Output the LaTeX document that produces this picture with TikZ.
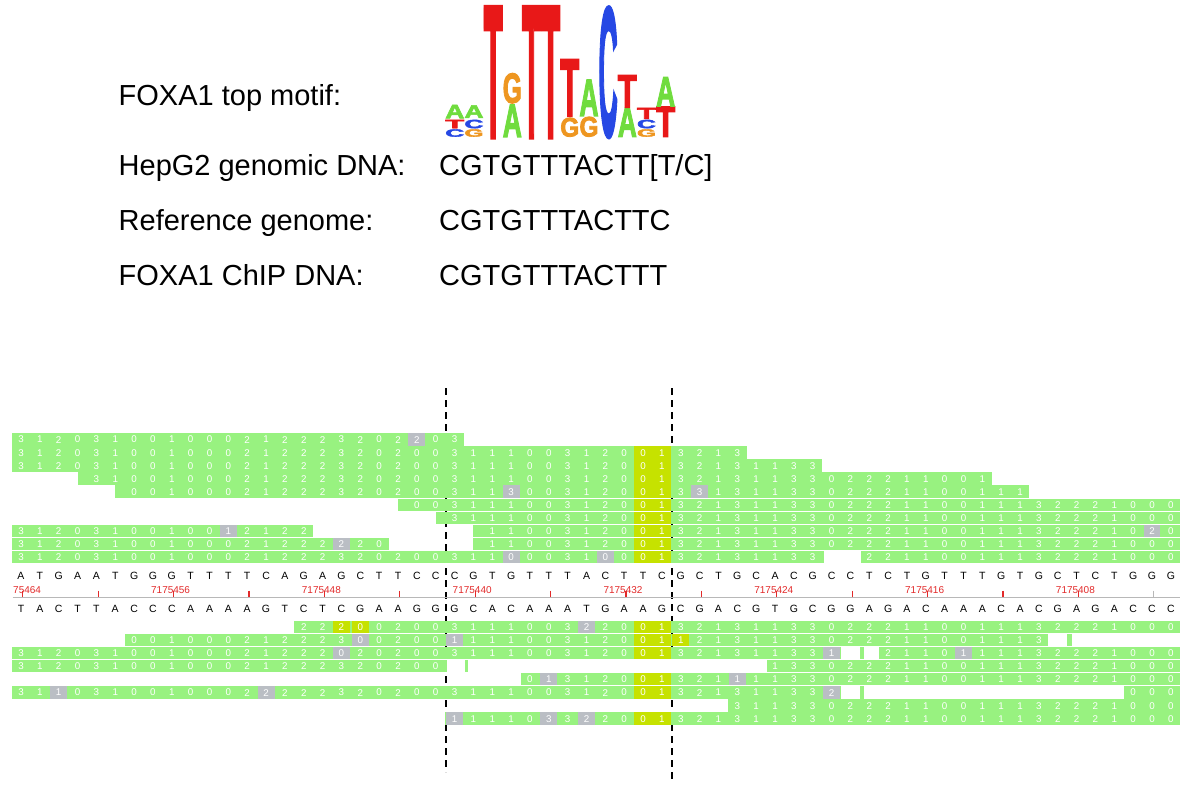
\documentclass[tikz,border=0pt]{standalone}
\usepackage{graphicx}
\usepackage{fontspec}
\setmainfont{Liberation Sans}
\newfontfamily\logofont[FakeBold=3]{Liberation Sans Bold}
\usepackage{tikz}
\usetikzlibrary{positioning, calc}
\definecolor{ReadGreen}{RGB}{152,242,128}
\definecolor{SnpYellow}{RGB}{198,226,0}
\definecolor{MisGrey}{RGB}{186,190,196}
\definecolor{LogoA}{RGB}{112,220,62}
\definecolor{LogoC}{RGB}{38,72,228}
\definecolor{LogoG}{RGB}{238,150,32}
\definecolor{LogoT}{RGB}{232,24,24}
\definecolor{PosRed}{RGB}{226,42,42}
\definecolor{RulerGrey}{RGB}{184,184,184}

\tikzset{
  caption/.style={anchor=base west, inner sep=0pt, font=\fontsize{29}{29}\selectfont},
  nuc/.style={anchor=base, inner sep=0pt, font=\fontsize{10.5}{10.5}\selectfont},
  qual/.style={inner sep=0pt, text=white, font=\fontsize{9.8}{9.8}\selectfont},
  coord/.style={inner sep=0pt, text=PosRed, font=\fontsize{10}{10}\selectfont},
  logo/.style={anchor=south west, inner sep=0pt},
  snpline/.style={line width=2.3pt, dash pattern=on 7pt off 5pt},
}

% per-column values printed in the reads
\def\quallist{{3,1,2,0,3,1,0,0,1,0,0,0,2,1,2,2,2,3,2,0,2,0,0,3,1,1,1,0,0,3,1,2,0,0,1,3,2,1,3,1,1,3,3,0,2,2,2,1,1,0,0,1,1,1,3,2,2,2,1,0,0,0}}
\newcommand\colx[1]{21+18.85*(#1)}

% green read: top, first edge, last edge (in columns)
\newcommand\readbar[3]{%
  \fill[ReadGreen] ({\colx{#2}},#1) rectangle ({\colx{#3}},{#1+12.5});
  \foreach \qc in {0,...,61}{%
    \pgfmathtruncatemacro\inside{(\qc-0.5>#2-0.02)&&(\qc+0.5<#3+0.02)}%
    \ifnum\inside=1
      \pgfmathtruncatemacro\qv{\quallist[\qc]}%
      \node[qual] at ({\colx{\qc}},{#1+6.6}) {\qv};
    \fi}%
}
% single coloured cell: top, column, colour, digit
\newcommand\cellmark[4]{%
  \fill[#3] ({\colx{#2-0.45}},#1) rectangle ({\colx{#2+0.45}},{#1+12.5});
  \node[qual] at ({\colx{#2}},{#1+6.6}) {#4};
}
% the two highlighted columns
\newcommand\snpcells[1]{%
  \fill[SnpYellow] ({\colx{32.5}},#1) rectangle ({\colx{34.5}},{#1+12.5});
  \node[qual] at ({\colx{33}},{#1+6.6}) {0};
  \node[qual] at ({\colx{34}},{#1+6.6}) {1};
}
\newcommand\gapbox[3]{%
  \fill[white] ({\colx{#2}},#1) rectangle ({\colx{#3}},{#1+12.5});
}

\begin{document}
\begin{tikzpicture}[x=1pt,y=-1pt]
\useasboundingbox (0,0) rectangle (1200,787);

% labels and sequences
\node[caption] (motif) at (118.5,105) {FOXA1 top motif:};
\node[caption] (hepg2) at (118.5,175) {HepG2 genomic DNA:};
\node[caption] (refg) at (118.5,230) {Reference genome:};
\node[caption] (chip) at (118.5,285) {FOXA1 ChIP DNA:};
\node[caption] (hepseq) at (439,175) {CGTGTTTACTT[T/C]};
\node[caption] (refseq) at (439,230) {CGTGTTTACTTC};
\node[caption] (chipseq) at (439,285) {CGTGTTTACTTT};

% sequence logo
\foreach \lc/\yb/\h/\b/\col in {
    0/137/7.5/C/LogoC, 0/128.5/8.5/T/LogoT, 0/118.5/13.5/A/LogoA,
    1/137/7.5/G/LogoG, 1/128.5/8.5/C/LogoC, 1/118/12.5/A/LogoA,
    2/137/129/T/LogoT,
    3/137/32/A/LogoA, 3/103.5/30/G/LogoG,
    4/137/129/T/LogoT, 5/137/129/T/LogoT,
    6/137/19/G/LogoG, 6/116/56/T/LogoT,
    7/137/20/G/LogoG, 7/116/36/A/LogoA,
    8/137/129/C/LogoC,
    9/137/29/A/LogoA, 9/107.5/32/T/LogoT,
    10/137/7.5/G/LogoG, 10/128.5/8.5/C/LogoC, 10/119/11/T/LogoT,
    11/137/30/T/LogoT, 11/106.5/29/A/LogoA}
  \node[logo, text=\col] (logo\lc\b) at ({445.1+19.17*\lc},\yb) {\resizebox*{19pt}{\h pt}{\logofont\b}};

% snp position
\draw[snpline] (446,388) -- (446,772);
\draw[snpline] (672,388) -- (672,779);

% reads above the reference
\readbar{433.0}{-0.5}{23.5} \cellmark{433.0}{21}{MisGrey}{2}
\readbar{446.1}{-0.5}{38.5} \snpcells{446.1}
\readbar{459.2}{-0.5}{42.5} \snpcells{459.2}
\readbar{472.3}{3.0}{51.5} \snpcells{472.3}
\readbar{485.4}{5.0}{53.5} \snpcells{485.4}
\cellmark{485.4}{26}{MisGrey}{3} \cellmark{485.4}{36}{MisGrey}{3}
\readbar{498.5}{20.0}{61.5} \snpcells{498.5}
\readbar{511.6}{22.0}{61.5} \snpcells{511.6}
\readbar{524.7}{-0.5}{15.5} \readbar{524.7}{24.0}{61.5} \snpcells{524.7}
\cellmark{524.7}{11}{MisGrey}{1} \cellmark{524.7}{60}{MisGrey}{2}
\readbar{537.8}{-0.5}{19.5} \readbar{537.8}{24.0}{61.5} \snpcells{537.8}
\cellmark{537.8}{17}{MisGrey}{2}
\readbar{550.9}{-0.5}{61.5} \snpcells{550.9}
\cellmark{550.9}{26}{MisGrey}{0} \cellmark{550.9}{31}{MisGrey}{0}
\gapbox{550.9}{42.6}{44.55}

% reference strands and ruler
\foreach \b [count=\i from 0] in {A,T,G,A,A,T,G,G,G,T,T,T,T,C,A,G,A,G,C,T,T,C,C,C,G,T,G,T,T,T,A,C,T,T,C,G,C,T,G,C,A,C,G,C,C,T,C,T,G,T,T,T,G,T,G,C,T,C,T,G,G,G}
  \node[nuc] (top\i) at ({\colx{\i}},579.5) {\b};
\foreach \b [count=\i from 0] in {T,A,C,T,T,A,C,C,C,A,A,A,A,G,T,C,T,C,G,A,A,G,G,G,C,A,C,A,A,A,T,G,A,A,G,C,G,A,C,G,T,G,C,G,G,A,G,A,C,A,A,A,C,A,C,G,A,G,A,C,C,C}
  \node[nuc] (bot\i) at ({\colx{\i}},612) {\b};
\draw[RulerGrey, line width=1pt] (12.5,597) -- (1180,597);
\foreach \k in {0,...,14}
  \draw[PosRed, line width=1.2pt] ({22.8+75.4*\k},590.5) -- ++(0,6.5);
\draw[RulerGrey, line width=1.2pt] ({22.8+75.4*15},590.5) -- ++(0,6.5);
\node[coord, anchor=west] (p0) at (13,590) {75464};
\foreach \k/\lab in {1/7175456,2/7175448,3/7175440,4/7175432,5/7175424,6/7175416,7/7175408}
  \node[coord] (p\k) at ({19.8+150.8*\k},590) {\lab};

% reads below the reference
\readbar{620.5}{14.5}{61.5} \snpcells{620.5}
\cellmark{620.5}{17}{SnpYellow}{2} \cellmark{620.5}{18}{SnpYellow}{0} \cellmark{620.5}{30}{MisGrey}{2}
\readbar{633.6}{5.5}{61.5} \snpcells{633.6}
\cellmark{633.6}{18}{MisGrey}{0} \cellmark{633.6}{23}{MisGrey}{1} \cellmark{633.6}{35}{SnpYellow}{1}
\gapbox{633.6}{54.5}{55.5} \gapbox{633.6}{55.75}{61.6}
\readbar{646.7}{-0.5}{61.5} \snpcells{646.7}
\cellmark{646.7}{17}{MisGrey}{0} \cellmark{646.7}{43}{MisGrey}{1} \cellmark{646.7}{50}{MisGrey}{1}
\gapbox{646.7}{43.5}{44.5} \gapbox{646.7}{44.7}{45.5}
\readbar{659.8}{-0.5}{61.5}
\gapbox{659.8}{22.6}{23.55} \gapbox{659.8}{23.7}{39.58}
\readbar{672.9}{26.5}{61.5} \snpcells{672.9}
\cellmark{672.9}{28}{MisGrey}{1} \cellmark{672.9}{38}{MisGrey}{1}
\readbar{686.0}{-0.5}{61.5} \snpcells{686.0}
\cellmark{686.0}{2}{MisGrey}{1} \cellmark{686.0}{13}{MisGrey}{2} \cellmark{686.0}{43}{MisGrey}{2}
\gapbox{686.0}{43.5}{44.5} \gapbox{686.0}{44.7}{58.5}
\readbar{699.1}{37.5}{61.5}
\readbar{712.2}{22.5}{61.5} \snpcells{712.2}
\cellmark{712.2}{23}{MisGrey}{1} \cellmark{712.2}{28}{MisGrey}{3} \cellmark{712.2}{30}{MisGrey}{2}
\end{tikzpicture}
\end{document}
